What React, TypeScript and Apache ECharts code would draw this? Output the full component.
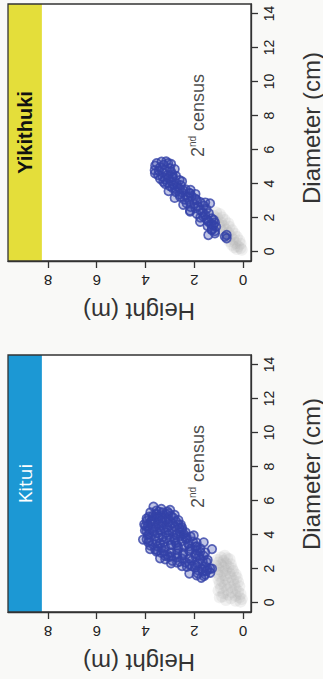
import React, { useEffect, useRef } from "react";
import * as echarts from "echarts";

// Axis ticks
const heightTicks = [0, 2, 4, 6, 8];
const diameterTicks = [0, 2, 4, 6, 8, 10, 12, 14];
const siteNames = ["Yikithuki", "Kitui"];
// annotation position [diameter (cm), height (m)]
const censusLabelPos = [8.0, 1.85];

// Points are [diameter (cm), height (m)]
const yikithukiBlue = [
  [5.28, 3.34], [5.19, 3.54], [5.19, 3.07], [5.1, 3.25], [5.3, 3.15], [5.05, 3.6], [5.15, 2.95],
  [4.9, 3.0], [4.8, 3.2], [4.75, 3.45], [4.6, 3.61], [4.5, 3.48], [4.85, 2.8], [4.7, 2.95], [4.95, 3.4], [4.65, 3.3], [4.78, 3.62],
  [4.5, 3.1], [4.4, 3.3], [4.35, 2.9], [4.3, 3.05], [4.45, 2.75], [4.25, 3.2], [4.55, 2.9], [4.2, 2.6], [4.4, 2.87], [4.28, 3.4],
  [4.1, 3.27], [4.0, 2.72], [4.15, 2.95], [4.05, 3.1], [3.95, 2.85], [3.9, 2.55], [4.12, 2.5], [3.85, 3.0], [3.98, 3.2], [3.82, 2.7],
  [3.75, 2.9], [3.7, 2.6], [3.65, 2.35], [3.6, 2.45], [3.55, 3.05], [3.5, 2.75], [3.45, 2.2], [3.42, 2.17], [3.62, 2.15], [3.72, 2.8], [3.48, 2.5],
  [3.35, 2.6], [3.3, 2.35], [3.25, 2.1], [3.22, 2.58], [3.15, 2.8], [3.1, 1.95], [3.03, 1.9], [3.05, 2.4], [3.18, 2.25], [3.38, 1.95],
  [2.95, 2.2], [2.9, 1.75], [2.83, 2.31], [2.83, 1.35], [2.8, 2.0], [2.75, 2.45], [2.7, 1.6], [2.65, 1.85], [2.62, 2.15], [2.88, 1.55],
  [2.55, 1.95], [2.5, 1.5], [2.44, 1.76], [2.4, 2.17], [2.34, 2.17], [2.3, 1.65], [2.25, 1.4], [2.22, 1.9],
  [2.15, 1.55], [2.05, 1.63], [1.95, 1.28], [2.0, 1.75], [1.9, 1.5], [1.85, 1.2], [1.8, 1.42],
  [1.75, 1.76], [1.75, 1.42], [1.7, 1.15], [1.6, 1.3], [1.56, 1.22], [1.5, 1.45], [1.45, 1.1],
  [1.3, 1.28], [1.26, 1.28], [1.2, 1.15], [1.07, 1.15], [0.97, 1.42],
  [0.97, 0.67], [0.78, 0.67], [0.87, 0.74],
];

const yikithukiGray = [
  [2.3, 1.1], [2.2, 0.95], [2.1, 1.2], [2.0, 0.85], [1.95, 1.05], [1.85, 0.75], [1.8, 1.15], [1.7, 0.9],
  [1.65, 0.6], [1.6, 1.0], [1.5, 0.8], [1.45, 0.55], [1.4, 0.95], [1.3, 0.7], [1.25, 0.45], [1.2, 0.85],
  [1.1, 0.6], [1.05, 0.35], [1.0, 0.75], [0.9, 0.5], [0.85, 0.25], [0.8, 0.65], [0.7, 0.4], [0.65, 0.15],
  [0.6, 0.55], [0.5, 0.3], [0.45, 0.1], [0.4, 0.45], [0.3, 0.2], [0.25, 0.35], [0.2, 0.1], [0.15, 0.25], [0.1, 0.05],
];

const kituiBlue = [
  [5.64, 3.67], [5.44, 2.99], [5.5, 3.35], [5.3, 3.8], [5.2, 3.55], [5.15, 2.8], [4.94, 3.95], [5.0, 3.2], [4.85, 2.65], [4.6, 4.05],
  [4.24, 4.02], [4.4, 2.5], [4.04, 2.43], [3.94, 2.02], [3.8, 2.3], [3.54, 3.88], [3.54, 1.61], [3.3, 1.9], [3.14, 3.81], [3.14, 1.27],
  [2.95, 1.55], [2.74, 1.61], [2.6, 3.4], [2.54, 3.19], [2.5, 1.45], [2.3, 2.95], [2.14, 2.5], [2.14, 2.09], [2.0, 1.35], [1.99, 1.27],
  [1.85, 1.5], [1.75, 1.34], [1.6, 1.9], [1.45, 1.71], [1.7, 2.2], [2.35, 2.7], [3.0, 3.55], [3.7, 4.1], [4.8, 3.75], [5.35, 3.1],
  [5.3, 3.3], [5.25, 3.05], [5.4, 3.55], [5.1, 3.7], [5.2, 3.15], [5.35, 3.45],
  [5.05, 3.85], [5.0, 3.5], [4.95, 3.3], [5.1, 2.95], [4.9, 3.05], [5.05, 3.6], [4.92, 3.7], [4.98, 2.85], [5.12, 3.4],
  [4.8, 3.95], [4.75, 3.6], [4.7, 3.3], [4.85, 3.15], [4.65, 2.9], [4.78, 2.75], [4.7, 3.8], [4.62, 3.45], [4.88, 3.5], [4.6, 2.65], [4.72, 3.05],
  [4.5, 3.9], [4.45, 3.6], [4.55, 3.35], [4.4, 3.1], [4.48, 2.8], [4.35, 2.6], [4.52, 3.0], [4.3, 3.85], [4.42, 3.45], [4.58, 2.55], [4.38, 3.25], [4.5, 4.0],
  [4.2, 3.95], [4.15, 3.65], [4.25, 3.4], [4.1, 3.15], [4.2, 2.9], [4.05, 2.7], [4.28, 2.5], [4.12, 2.35], [4.22, 3.7], [4.08, 3.5], [4.18, 2.6], [4.02, 3.85], [4.25, 3.05],
  [3.95, 3.9], [3.9, 3.6], [3.85, 3.3], [3.98, 3.05], [3.8, 2.8], [3.92, 2.55], [3.75, 2.35], [3.88, 2.15], [3.72, 3.95], [3.82, 3.45], [3.96, 2.75], [3.78, 3.15], [3.9, 2.4],
  [3.65, 3.85], [3.6, 3.55], [3.55, 3.25], [3.68, 3.0], [3.5, 2.75], [3.62, 2.5], [3.45, 2.25], [3.58, 2.05], [3.42, 3.7], [3.48, 3.4], [3.66, 2.8], [3.52, 1.9], [3.4, 2.95],
  [3.35, 3.8], [3.3, 3.5], [3.25, 3.2], [3.38, 2.95], [3.2, 2.65], [3.32, 2.4], [3.15, 2.15], [3.28, 1.95], [3.12, 3.6], [3.22, 3.35], [3.36, 2.7], [3.18, 1.75], [3.3, 2.2],
  [3.05, 3.5], [3.0, 3.25], [2.95, 2.95], [3.08, 2.7], [2.9, 2.45], [3.02, 2.2], [2.85, 1.95], [2.98, 1.75], [2.82, 3.1], [2.92, 3.35], [3.06, 1.9], [2.88, 2.7],
  [2.75, 3.2], [2.7, 2.95], [2.65, 2.7], [2.78, 2.45], [2.6, 2.2], [2.72, 1.95], [2.55, 1.75], [2.68, 3.05], [2.58, 2.5], [2.76, 1.8],
  [2.45, 2.9], [2.4, 2.6], [2.35, 2.35], [2.48, 2.1], [2.3, 1.85], [2.42, 1.65], [2.25, 2.2], [2.38, 1.5], [2.2, 1.95],
  [2.1, 2.3], [2.05, 1.95], [1.98, 1.7], [2.12, 1.55], [1.9, 1.85], [1.95, 1.45], [1.82, 1.65],
  [1.72, 1.85], [1.65, 1.55], [1.55, 1.6],
];

const kituiGray = [
  [2.75, 0.75], [2.65, 0.9], [2.6, 0.65], [2.5, 1.05], [2.45, 0.8], [2.55, 0.55],
  [2.35, 1.0], [2.3, 0.7], [2.25, 0.5], [2.2, 0.9], [2.15, 1.1], [2.1, 0.6], [2.05, 0.8], [2.0, 0.45],
  [1.95, 1.0], [1.9, 0.7], [1.85, 0.4], [1.8, 0.85], [1.75, 1.05], [1.7, 0.55], [1.65, 0.3], [1.6, 0.75],
  [1.55, 0.95], [1.5, 0.5], [1.45, 0.25], [1.4, 0.7], [1.35, 1.0], [1.3, 0.4], [1.25, 0.85], [1.2, 0.2],
  [1.15, 0.6], [1.1, 0.95], [1.05, 0.35], [1.0, 0.75], [0.95, 0.15], [0.9, 0.5], [0.85, 0.9], [0.8, 0.3],
  [0.75, 0.65], [0.7, 1.0], [0.65, 0.2], [0.6, 0.45], [0.55, 0.8], [0.5, 0.1], [0.45, 0.6], [0.4, 0.3],
  [0.35, 0.85], [0.3, 0.15], [0.25, 0.5], [0.2, 0.05], [0.15, 0.7], [0.1, 0.3], [0.05, 0.1], [0.3, 0.95],
];

const panelBlue = [yikithukiBlue, kituiBlue];
const panelGray = [yikithukiGray, kituiGray];

const FONT = "Liberation Sans, Arial, sans-serif";

export default function App() {
  const ref = useRef<HTMLDivElement>(null);

  useEffect(() => {
    if (!ref.current) return;
    const chart = echarts.init(ref.current, undefined, { renderer: "svg" });

    const grids = [
      { left: 8, top: 4, width: 243, height: 257 },
      { left: 8, top: 355, width: 243, height: 257 },
    ];
    const stripColors = ["#e4de3a", "#1c98d4"];
    const stripLabel = [
      { color: "#111", fontWeight: "bold", fontSize: 20, fontFamily: FONT },
      { color: "#ffffff", fontWeight: "normal", fontSize: 19, fontFamily: "Open Sans, sans-serif" },
    ];

    const xAxis: any[] = [];
    const yAxis: any[] = [];
    const series: any[] = [];
    const graphic: any[] = [];

    grids.forEach((g, i) => {
      xAxis.push({
        type: "value",
        gridIndex: i,
        inverse: true,
        min: -0.33,
        max: 9.64,
        position: "bottom",
        axisLine: { show: true, onZero: false, lineStyle: { color: "#333", width: 1.3 } },
        axisTick: { show: true, customValues: heightTicks, length: 7, lineStyle: { color: "#333", width: 1.3 } },
        axisLabel: { customValues: heightTicks, rotate: 180, margin: 12, fontSize: 15, color: "#222", fontFamily: FONT },
        splitLine: { show: false },
      });
      yAxis.push({
        type: "value",
        gridIndex: i,
        min: -0.56,
        max: 14.56,
        position: "right",
        axisLine: { show: true, onZero: false, lineStyle: { color: "#333", width: 1.3 } },
        axisTick: { show: true, customValues: diameterTicks, length: 7, lineStyle: { color: "#333", width: 1.3 } },
        axisLabel: { customValues: diameterTicks, rotate: 90, margin: 11, fontSize: 14, color: "#222", fontFamily: FONT },
        splitLine: { show: false },
      });

      series.push({
        type: "scatter",
        name: siteNames[i] + " 1st",
        xAxisIndex: i,
        yAxisIndex: i,
        data: panelGray[i].map(([d, h]) => [h, d]),
        symbol: "circle",
        symbolSize: 12,
        itemStyle: { color: "rgba(175,175,175,0.22)" },
        z: 2,
        silent: true,
        markArea: {
          silent: true,
          itemStyle: { color: stripColors[i] },
          label: {
            show: true,
            position: "inside",
            rotate: 90,
            formatter: siteNames[i],
            ...stripLabel[i],
          },
          data: [[{ xAxis: 8.25 }, { xAxis: 9.64 }]],
        },
      });
      series.push({
        type: "scatter",
        name: siteNames[i] + " 2nd",
        xAxisIndex: i,
        yAxisIndex: i,
        data: panelBlue[i].map(([d, h]) => [h, d]),
        symbol: "circle",
        symbolSize: 8.5,
        itemStyle: { color: "rgba(48,66,170,0.38)", borderColor: "#3542a8", borderWidth: 1.7 },
        z: 3,
        silent: true,
      });
      series.push({
        type: "scatter",
        name: "label",
        xAxisIndex: i,
        yAxisIndex: i,
        data: [[censusLabelPos[1], censusLabelPos[0]]],
        symbolSize: 1,
        itemStyle: { color: "rgba(0,0,0,0)" },
        silent: true,
        z: 4,
        label: {
          show: true,
          position: "inside",
          rotate: 90,
          formatter: "{a|2}{b|nd}{a| census}",
          rich: {
            a: { fontSize: 18, color: "#1a1a1a", fontFamily: FONT, lineHeight: 20, verticalAlign: "middle" },
            b: { fontSize: 10, color: "#1a1a1a", fontFamily: FONT, lineHeight: 20, verticalAlign: "top" },
          },
        },
      });

      graphic.push({
        type: "rect",
        shape: { x: g.left, y: g.top, width: g.width, height: g.height },
        style: { fill: "none", stroke: "#333", lineWidth: 1.3 },
        z: 100,
        silent: true,
      });
      graphic.push({
        type: "text",
        x: 139,
        y: g.top + g.height + 50,
        rotation: Math.PI,
        style: { text: "Height (m)", fontSize: 24, fill: "#333", fontFamily: FONT, align: "center", verticalAlign: "middle" },
        silent: true,
      });
      graphic.push({
        type: "text",
        x: 311,
        y: i === 0 ? 128 : 474,
        rotation: Math.PI / 2,
        style: { text: "Diameter (cm)", fontSize: 24, fill: "#333", fontFamily: FONT, align: "center", verticalAlign: "middle" },
        silent: true,
      });
    });

    chart.setOption({
      animation: false,
      backgroundColor: "#f9f9f7",
      grid: grids.map((g) => ({ ...g, show: true, backgroundColor: "#ffffff", borderWidth: 0 })),
      xAxis,
      yAxis,
      series,
      graphic,
    });

    return () => chart.dispose();
  }, []);

  return (
    <div
      ref={ref}
      style={{ position: "fixed", left: 0, top: 0, width: 323, height: 679 }}
    />
  );
}
